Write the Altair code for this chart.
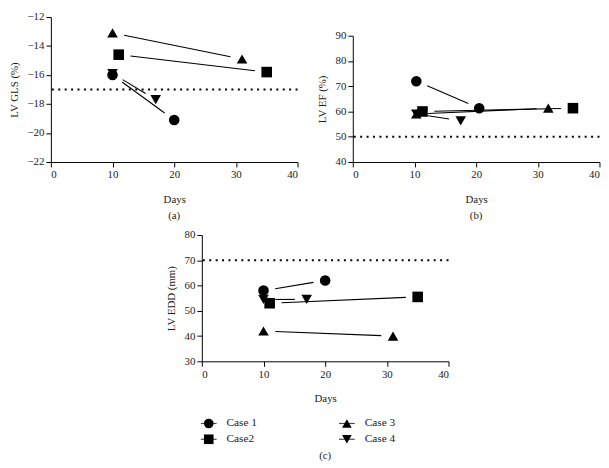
import math
import altair as alt
import pandas as pd

cases = ["Case 1", "Case2", "Case 3", "Case 4"]
shapes = ["circle", "square", "triangle-up", "triangle-down"]

gls_days = [[10, 20], [11, 35], [10, 31], [10, 17]]
gls_vals = [[-16.0, -19.1], [-14.6, -15.8], [-13.1, -14.9], [-15.9, -17.7]]
ef_days = [[10.3, 20.5], [11.3, 35.7], [10.3, 31.7], [10.3, 17.5]]
ef_vals = [[72, 61.3], [60, 61.3], [59, 61.3], [59, 56.3]]
edd_days = [[10, 20], [11, 35], [10, 31], [10, 17]]
edd_vals = [[58, 62], [53, 55.5], [42, 40], [54.5, 54.5]]

ref_gls = -17
ref_ef = 50
ref_edd = 70

FONT = "Liberation Serif"
W = 250
GAP = 12  # visual gap between marker and connecting line (px)

shape_scale = alt.Scale(domain=cases, range=shapes)


def panel(days, vals, ref, ydomain, ystep, ytitle, caption, h, yrange_top=0):
    pts = []
    segs = []
    span = ydomain[1] - ydomain[0]
    ppx = W / 40.0
    ppy = (h - yrange_top) / span
    for c, d, v in zip(cases, days, vals):
        for dd, vv in zip(d, v):
            pts.append({"case": c, "day": dd, "val": vv})
        dx = (d[1] - d[0]) * ppx
        dy = (v[1] - v[0]) * ppy
        L = math.hypot(dx, dy)
        f = min(GAP / L, 0.45) if L > 0 else 0
        segs.append({
            "case": c,
            "x1": d[0] + f * (d[1] - d[0]),
            "x2": d[1] - f * (d[1] - d[0]),
            "y1": v[0] + f * (v[1] - v[0]),
            "y2": v[1] - f * (v[1] - v[0]),
        })
    pdf = pd.DataFrame(pts)
    sdf = pd.DataFrame(segs)
    xs = alt.Scale(domain=[0, 40])
    yscale = alt.Scale(domain=ydomain, range=[h, yrange_top]) if yrange_top else alt.Scale(domain=ydomain)
    xax = alt.Axis(values=[0, 10, 20, 30, 40], title="Days", titlePadding=14)
    yvals = list(range(ydomain[0], ydomain[1] + 1, ystep))
    yax = alt.Axis(values=yvals, title=ytitle, titlePadding=8)

    rules = alt.Chart(sdf).mark_rule(color="black", strokeWidth=1.1).encode(
        x=alt.X("x1:Q", scale=xs, axis=xax),
        x2="x2:Q",
        y=alt.Y("y1:Q", scale=yscale, axis=yax),
        y2="y2:Q",
    )
    points = alt.Chart(pdf).mark_point(filled=True, color="black", size=115, opacity=1).encode(
        x=alt.X("day:Q", scale=xs, axis=xax),
        y=alt.Y("val:Q", scale=yscale, axis=yax),
        shape=alt.Shape("case:N", scale=shape_scale, legend=None),
    )
    refdf = pd.DataFrame({"v": [ref]})
    refline = alt.Chart(refdf).mark_rule(color="black", strokeWidth=2.2, strokeDash=[2, 4.5]).encode(
        y=alt.Y("v:Q", scale=yscale, axis=yax),
    )
    props = dict(width=W, height=h)
    if caption:
        props["title"] = alt.TitleParams(caption, orient="bottom", offset=6, fontSize=11, font=FONT,
                                         fontWeight="normal", color="#222")
    return alt.layer(refline, rules, points).properties(**props)


a = panel(gls_days, gls_vals, ref_gls, [-22, -12], 2, "LV GLS (%)", "(a)", 147)
b = panel(ef_days, ef_vals, ref_ef, [40, 90], 10, "LV EF (%)", "(b)", 147, yrange_top=19)
c = panel(edd_days, edd_vals, ref_edd, [30, 80], 10, "LV EDD (mm)", "", 128)

# legend (2 columns, filled column-wise)
leg_rows = []
for i, cname in enumerate(cases):
    leg_rows.append({"case": cname, "col": i // 2, "row": i % 2})
ldf = pd.DataFrame(leg_rows)
lx = alt.X("col:Q", scale=alt.Scale(domain=[0, 1], range=[7, 147]), axis=None)
ly = alt.Y("row:Q", scale=alt.Scale(domain=[0, 1], range=[5, 21]), axis=None)
ltick = alt.Chart(ldf).mark_tick(orient="horizontal", color="black", size=16, thickness=1.2).encode(x=lx, y=ly)
lpt = alt.Chart(ldf).mark_point(filled=True, color="black", size=95, opacity=1).encode(
    x=lx, y=ly, shape=alt.Shape("case:N", scale=shape_scale, legend=None))
ltxt = alt.Chart(ldf).mark_text(align="left", baseline="middle", dx=18, font=FONT, fontSize=11.5, color="#222").encode(
    x=lx, y=ly, text="case:N")
legend = alt.layer(ltick, lpt, ltxt).properties(
    width=W, height=26,
    title=alt.TitleParams("(c)", orient="bottom", offset=6, fontSize=11, font=FONT,
                          fontWeight="normal", color="#222"),
)

top = alt.hconcat(a, b, spacing=17)
bottom = alt.vconcat(c, legend, spacing=14)
chart = alt.vconcat(top, bottom, spacing=8, center=True).properties(
    padding={"left": 0, "top": 0, "right": 0, "bottom": 0}
).configure_view(stroke=None).configure_axis(
    domainColor="black", tickColor="black", tickSize=5, grid=False,
    labelFont=FONT, titleFont=FONT, labelFontSize=11, titleFontSize=11,
    titleFontWeight="normal", labelColor="#222", titleColor="#222",
)

chart.save("out.html", embed_options={"renderer": "svg", "actions": False})
